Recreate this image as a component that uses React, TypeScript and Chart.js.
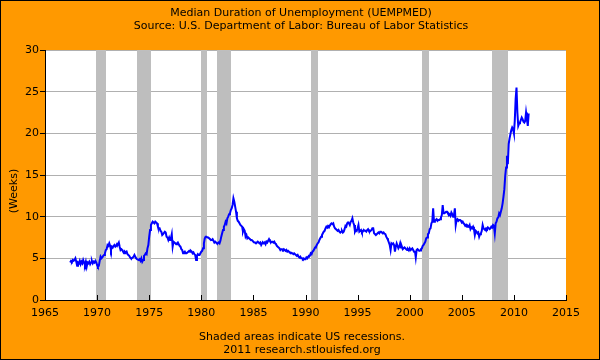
import React, { useEffect, useRef } from "react";
import { Chart, registerables } from "chart.js";

Chart.register(...registerables);

// Monthly series starts June 1967 (month index 5, zero-based)
const startYear = 1967;
const startMonth = 5;

const v1960s = [
  4.5, 4.7, 4.6, 4.8, 4.7, 4.8, 5.0,
  4.6, 4.1, 4.5, 4.4, 4.7, 4.3, 4.6, 4.4, 4.8, 4.5, 4.2, 4.6,
  4.0, 4.5, 4.4, 4.6, 4.3, 4.5, 4.7, 4.4, 4.6, 4.5, 4.7, 4.5,
];

const v1970s = [
  4.2, 4.0, 4.1, 4.7, 5.2, 5.0, 5.1, 5.3, 5.4, 5.6, 6.0, 6.1,
  6.6, 6.5, 6.8, 6.5, 6.0, 6.4, 6.3, 6.5, 6.6, 6.4, 6.5, 6.75,
  6.7, 6.9, 6.4, 6.0, 6.1, 6.0, 5.8, 5.6, 5.8, 5.7, 5.8, 5.5,
  5.4, 5.3, 5.1, 5.0, 5.0, 5.1, 5.2, 5.4, 5.2, 5.0, 4.9, 4.9,
  4.8, 4.9, 4.7, 5.0, 4.6, 4.8, 5.3, 5.4, 5.6, 5.5, 6.2, 6.6,
  7.6, 8.4, 9.0, 9.2, 9.4, 9.3, 9.2, 9.4, 9.3, 9.2, 8.8, 8.6,
  8.6, 8.3, 8.2, 7.8, 7.9, 7.9, 8.2, 8.1, 7.6, 7.5, 7.2, 7.5,
  7.2, 7.4, 7.9, 6.4, 7.0, 6.9, 6.8, 6.7, 6.8, 6.9, 6.7, 6.5,
  6.4, 6.1, 6.0, 5.6, 5.7, 5.8, 5.6, 5.6, 5.7, 5.8, 5.9, 5.8,
  5.9, 5.8, 5.6, 5.7, 5.5, 5.4, 4.8, 5.3, 5.5, 5.4, 5.4, 5.6,
];

const v1980s = [
  5.8, 5.9, 6.2, 6.8, 7.4, 7.6, 7.6, 7.5, 7.5, 7.4, 7.3, 7.2,
  7.2, 7.3, 7.1, 6.9, 7.0, 6.9, 6.8, 6.8, 6.9, 6.8, 7.1, 7.6,
  8.0, 8.4, 8.8, 9.0, 9.4, 9.2, 9.8, 10.0, 10.3, 10.4, 10.8, 11.0,
  11.4, 12.2, 11.8, 11.2, 10.6, 9.8, 9.5, 9.4, 9.2, 9.0, 8.9, 8.8,
  8.2, 8.5, 8.3, 7.6, 7.8, 7.4, 7.5, 7.4, 7.3, 7.2, 7.2, 7.1,
  7.0, 6.9, 6.9, 6.8, 6.8, 7.0, 6.9, 6.8, 6.9, 6.6, 6.8, 6.9,
  6.8, 6.9, 6.7, 7.0, 6.9, 7.1, 7.3, 7.1, 6.9, 7.0, 7.0, 6.9,
  7.0, 6.8, 6.7, 6.5, 6.4, 6.3, 6.2, 6.0, 6.1, 6.1, 6.0, 6.1,
  6.0, 5.9, 6.0, 5.8, 5.9, 5.8, 5.7, 5.7, 5.6, 5.6, 5.5, 5.6,
  5.5, 5.4, 5.3, 5.4, 5.2, 5.1, 5.2, 5.0, 5.0, 4.9, 5.0, 4.9,
];

const v1990s = [
  4.9, 5.1, 5.0, 5.2, 5.3, 5.3, 5.6, 5.5, 5.8, 5.9, 6.1, 6.3,
  6.4, 6.6, 6.8, 6.9, 7.2, 7.4, 7.6, 7.8, 8.0, 8.2, 8.3, 8.6,
  8.8, 8.7, 8.9, 8.8, 8.9, 9.1, 9.2, 9.1, 9.2, 8.8, 8.6, 8.5,
  8.4, 8.3, 8.4, 8.2, 8.1, 8.2, 8.3, 8.1, 8.2, 8.5, 8.9, 8.8,
  9.2, 9.3, 9.2, 9.0, 9.4, 9.5, 9.8, 9.3, 9.0, 8.2, 8.4, 8.3,
  8.6, 9.0, 8.2, 8.3, 8.4, 8.1, 8.2, 8.4, 8.3, 8.3, 8.2, 8.4,
  8.5, 8.3, 8.2, 8.3, 8.4, 8.6, 8.6, 8.0, 7.9, 7.8, 7.9, 8.0,
  8.1, 8.0, 8.2, 8.2, 8.1, 8.0, 8.1, 7.95, 7.9, 7.6, 7.4, 7.2,
  6.9, 6.6, 6.0, 6.8, 6.7, 6.8, 6.6, 5.8, 6.4, 6.8, 6.5, 6.2,
  6.4, 6.8, 6.3, 6.4, 6.1, 6.2, 6.3, 6.2, 6.1, 6.0, 6.1, 5.95,
];

const v2000s = [
  6.2, 6.0, 6.1, 6.2, 6.0, 5.8, 5.9, 5.1, 6.0, 6.1, 6.0, 5.9,
  5.95, 6.1, 6.2, 6.5, 6.6, 6.8, 7.0, 7.4, 7.5, 7.9, 8.0, 8.5,
  8.6, 9.2, 9.4, 11.0, 9.4, 9.5, 9.6, 9.7, 9.5, 9.6, 9.6, 9.7,
  9.9, 10.2, 11.4, 10.4, 10.4, 10.5, 10.6, 10.6, 10.4, 10.2, 10.3, 10.1,
  10.5, 10.3, 10.0, 10.2, 11.0, 9.0, 9.6, 9.7, 9.5, 9.6, 9.6, 9.5,
  9.3, 9.4, 9.2, 9.1, 8.9, 9.0, 8.8, 8.9, 8.8, 9.0, 8.5, 8.7,
  8.6, 8.8, 8.5, 7.8, 8.3, 8.2, 8.0, 8.1, 7.6, 7.9, 8.0, 8.3,
  9.0, 8.6, 8.5, 8.4, 8.6, 8.5, 8.7, 8.6, 8.5, 8.6, 8.8, 8.7,
  9.0, 8.9, 8.0, 9.2, 9.4, 9.8, 9.9, 10.4, 10.2, 10.2, 11.0, 11.6,
  12.4, 13.3, 14.9, 15.9, 17.3, 16.3, 18.7, 19.4, 19.9, 20.4, 20.7, 20.5,
];

const v2010s = [
  20.0, 21.5, 24.1, 25.5, 22.5, 20.9, 21.2, 21.3, 21.6, 21.9, 21.7, 21.4,
  21.3, 21.5, 22.5, 21.7, 20.9, 22.4,
];

const recessionStart = [1969.92, 1973.83, 1980.0, 1981.5, 1990.5, 2001.17, 2007.92];
const recessionEnd = [1970.83, 1975.17, 1980.5, 1982.83, 1991.17, 2001.83, 2009.42];

const xTicks = [1965, 1970, 1975, 1980, 1985, 1990, 1995, 2000, 2005, 2010, 2015];
const yTicks = [0, 5, 10, 15, 20, 25, 30];

const titleText = "Median Duration of Unemployment (UEMPMED)";
const subtitleText = "Source: U.S. Department of Labor: Bureau of Labor Statistics";
const footer1 = "Shaded areas indicate US recessions.";
const footer2 = "2011 research.stlouisfed.org";
const yAxisLabel = "(Weeks)";

const FONT = '11px "DejaVu Sans"';

export default function App() {
  const ref = useRef<HTMLCanvasElement | null>(null);

  useEffect(() => {
    const canvas = ref.current;
    if (!canvas) return;
    const values = [...v1960s, ...v1970s, ...v1980s, ...v1990s, ...v2000s, ...v2010s];
    const points = values.map((v, i) => ({ x: startYear + (startMonth + i) / 12, y: v }));

    const decor = {
      id: "decor",
      beforeDraw(chart: any) {
        const { ctx, chartArea: a } = chart;
        ctx.save();
        ctx.fillStyle = "#ff9900";
        ctx.fillRect(0, 0, 600, 360);
        ctx.fillStyle = "#ffffff";
        ctx.fillRect(a.left, a.top, a.right - a.left, a.bottom - a.top);
        ctx.restore();
      },
      beforeDatasetsDraw(chart: any) {
        const { ctx, chartArea: a, scales } = chart;
        const xs = scales.x;
        ctx.save();
        ctx.fillStyle = "#bebebe";
        recessionStart.forEach((s, i) => {
          const x1 = Math.round(xs.getPixelForValue(s));
          const x2 = Math.round(xs.getPixelForValue(recessionEnd[i]));
          ctx.fillRect(x1, a.top, x2 - x1, a.bottom - a.top);
        });
        ctx.restore();
      },
      afterDraw(chart: any) {
        const { ctx, chartArea: a, scales } = chart;
        const xs = scales.x;
        ctx.save();
        ctx.strokeStyle = "#000";
        ctx.lineWidth = 1;
        ctx.beginPath();
        xTicks.forEach((t) => {
          const px = Math.round(xs.getPixelForValue(t)) + 0.5;
          ctx.moveTo(px, a.bottom);
          ctx.lineTo(px, a.bottom - 5);
        });
        ctx.stroke();
        ctx.strokeRect(0.5, 0.5, 599, 359);
        ctx.fillStyle = "#000";
        ctx.font = FONT;
        ctx.textAlign = "center";
        ctx.textBaseline = "middle";
        ctx.fillText(titleText, 301, 13);
        ctx.fillText(subtitleText, 301, 26);
        ctx.fillText(footer1, 302, 337);
        ctx.fillText(footer2, 302, 350);
        ctx.translate(14, 191);
        ctx.rotate(-Math.PI / 2);
        ctx.fillText(yAxisLabel, 0, 0);
        ctx.restore();
      },
    };

    const chart = new Chart(canvas, {
      type: "line",
      data: {
        datasets: [
          {
            data: points,
            borderColor: "#0000ff",
            borderWidth: 2,
            pointRadius: 0,
            tension: 0,
            fill: false,
          },
        ],
      },
      options: {
        animation: false,
        responsive: false,
        devicePixelRatio: 1,
        events: [],
        layout: { padding: { top: 50, left: 0, right: 34, bottom: 0 } },
        plugins: { legend: { display: false }, tooltip: { enabled: false }, title: { display: false } },
        scales: {
          x: {
            type: "linear",
            min: 1965,
            max: 2015,
            afterBuildTicks: (s: any) => {
              s.ticks = xTicks.map((v) => ({ value: v }));
            },
            afterFit: (s: any) => {
              s.height = 60;
            },
            grid: { display: false, drawTicks: false, tickLength: 0 },
            border: { display: true, color: "#000", width: 1 },
            ticks: {
              autoSkip: false,
              maxRotation: 0,
              minRotation: 0,
              padding: 7,
              color: "#000",
              font: { family: "DejaVu Sans", size: 11 },
              callback: (v: any) => String(v),
            },
          },
          y: {
            min: 0,
            max: 30,
            afterBuildTicks: (s: any) => {
              s.ticks = yTicks.map((v) => ({ value: v }));
            },
            afterFit: (s: any) => {
              s.width = 45;
            },
            grid: { color: "#b0b0b0", lineWidth: 1, drawTicks: true, tickLength: 5, tickColor: "#000" },
            border: { display: true, color: "#000", width: 1 },
            ticks: {
              padding: 1,
              color: "#000",
              font: { family: "DejaVu Sans", size: 11 },
              callback: (v: any) => String(v),
            },
          },
        },
      },
      plugins: [decor],
    });

    return () => chart.destroy();
  }, []);

  return (
    <div style={{ position: "fixed", left: 0, top: 0, width: 600, height: 360 }}>
      <canvas ref={ref} width={600} height={360} style={{ display: "block", width: 600, height: 360 }} />
    </div>
  );
}
